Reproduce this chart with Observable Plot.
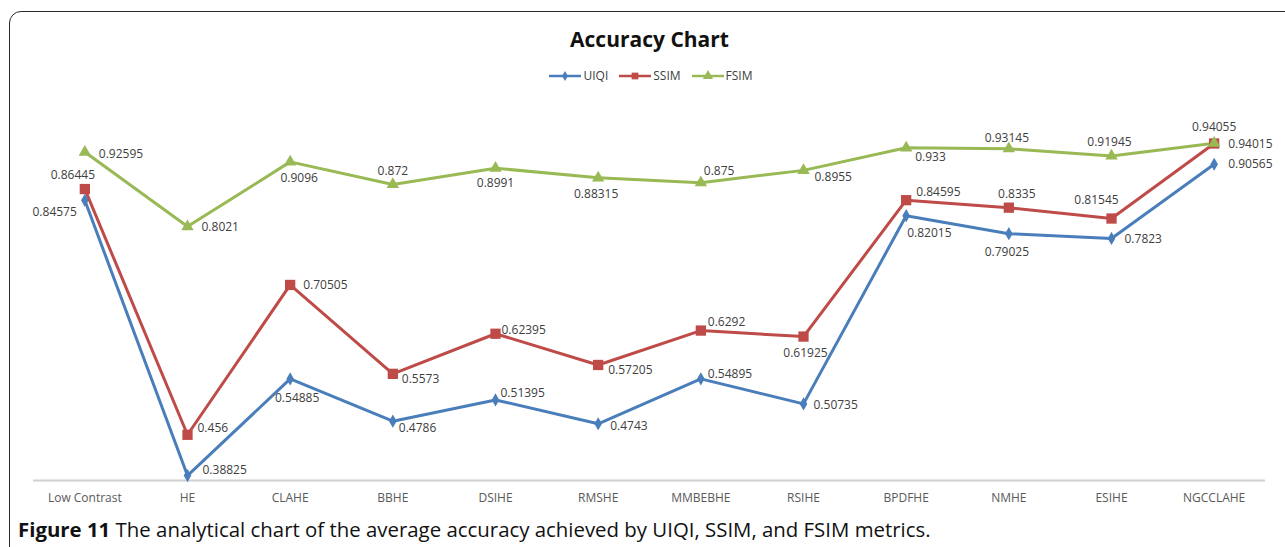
<!DOCTYPE html>
<html>
<head>
<meta charset="utf-8">
<script src="https://cdn.jsdelivr.net/npm/d3@7"></script>
<script src="https://cdn.jsdelivr.net/npm/@observablehq/plot@0.6"></script>
<style>
  html, body { margin: 0; padding: 0; background: #fff; width: 1285px; height: 547px; overflow: hidden; }
  body { position: relative; font-family: "Open Sans", "Liberation Sans", sans-serif; }
  #frame { position: absolute; left: 9px; top: 11px; width: 1300px; height: 580px; border: 1.5px solid #2a2a2a; border-radius: 12px; box-sizing: border-box; }
  #title { position: absolute; left: 0; top: 25px; width: 1299px; text-align: center; font-size: 21px; font-weight: 700; color: #111; line-height: 28px; }
  #legend { position: absolute; left: 0; top: 68px; width: 1302px; display: flex; justify-content: center; gap: 11px; font-size: 12px; color: #404040; line-height: 16px; }
  #legend .item { display: flex; align-items: center; gap: 2px; }
  #chart { position: absolute; left: 0; top: 95px; }
  #caption { position: absolute; left: 18px; top: 515px; font-size: 20.4px; color: #111; line-height: 28px; white-space: nowrap; }
</style>
</head>
<body>
<div id="frame"></div>
<div id="title">Accuracy Chart</div>
<div id="legend"></div>
<div id="chart"></div>
<div id="caption"><b>Figure 11</b> The analytical chart of the average accuracy achieved by UIQI, SSIM, and FSIM metrics.</div>
<script>
const categories = ["Low Contrast", "HE", "CLAHE", "BBHE", "DSIHE", "RMSHE", "MMBEBHE", "RSIHE", "BPDFHE", "NMHE", "ESIHE", "NGCCLAHE"];
const seriesNames = ["UIQI", "SSIM", "FSIM"];
const uiqi = [0.84575, 0.38825, 0.54885, 0.4786, 0.51395, 0.4743, 0.54895, 0.50735, 0.82015, 0.79025, 0.7823, 0.90565];
const ssim = [0.86445, 0.456, 0.70505, 0.5573, 0.62395, 0.57205, 0.6292, 0.61925, 0.84595, 0.8335, 0.81545, 0.94015];
const fsim = [0.92595, 0.8021, 0.9096, 0.872, 0.8991, 0.88315, 0.875, 0.8955, 0.933, 0.93145, 0.91945, 0.94055];

// label placements (anchor, dx, dy) — style only
const uiqiLabelPos = [["end",-8,12],["start",15,-5],["middle",7,19],["start",6,7],["start",5,-7],["start",12,2],["start",7,-5],["start",10,1],["start",1,17],["middle",-2,18],["start",13,1],["start",14,0]];
const ssimLabelPos = [["middle",-12,-14],["start",10,-7],["start",13,0],["start",9,5],["start",6,-4],["start",10,5],["start",7,-8],["middle",2,17],["start",10,-8],["middle",8,-14],["middle",-15,-18],["start",14,1]];
const fsimLabelPos = [["start",14,2],["start",14,1],["middle",9,16],["middle",0,-13],["middle",0,15],["middle",-2,16],["start",3,-12],["start",11,7],["start",9,9],["middle",-2,-11],["middle",-2,-14],["middle",0,-16]];

const colors = {UIQI: "#4a7ebb", SSIM: "#be4b48", FSIM: "#98b954"};
const symbols = {UIQI: "diamond", SSIM: "square", FSIM: "triangle"};
const radii = {UIQI: 4, SSIM: 5.8, FSIM: 4.6};
const valuesBy = {UIQI: uiqi, SSIM: ssim, FSIM: fsim};
const posBy = {UIQI: uiqiLabelPos, SSIM: ssimLabelPos, FSIM: fsimLabelPos};

const rows = seriesNames.flatMap(s => categories.map((c, i) => ({series: s, cat: c, value: valuesBy[s][i], i})));

const marks = [
  Plot.ruleY([0.38], {stroke: "#cfcfcf", strokeWidth: 2}),
  Plot.axisX({tickSize: 0, tickPadding: 13, fontSize: 12, fill: "#595959", fontFamily: "Open Sans"}),
];
for (const s of seriesNames) {
  const d = rows.filter(r => r.series === s);
  marks.push(Plot.line(d, {x: "cat", y: "value", stroke: colors[s], strokeWidth: 3}));
}
for (const s of seriesNames) {
  const d = rows.filter(r => r.series === s);
  marks.push(Plot.dot(d, {x: "cat", y: "value", symbol: () => symbols[s], r: radii[s], fill: colors[s], stroke: "none"}));
}
for (const s of seriesNames) {
  rows.filter(r => r.series === s).forEach(r => {
    const [anchor, dx, dy] = posBy[s][r.i];
    marks.push(Plot.text([r], {x: "cat", y: "value", text: d => String(d.value), textAnchor: anchor, dx, dy, fontSize: 12, fill: "#404040", fontFamily: "Open Sans"}));
  });
}

const chart = Plot.plot({
  width: 1285,
  height: 415,
  marginTop: 12,
  marginBottom: 30,
  marginLeft: 33,
  marginRight: 20,
  x: {type: "point", domain: categories, padding: 0.5, round: false, label: null, axis: null},
  y: {domain: [0.38, 1.0], axis: null},
  symbol: {type: "identity"},
  style: {background: "transparent", overflow: "visible"},
  marks
});
document.getElementById("chart").appendChild(chart);

// legend
const legend = document.getElementById("legend");
for (const s of seriesNames) {
  const item = document.createElement("div");
  item.className = "item";
  const ns = "http://www.w3.org/2000/svg";
  const svg = document.createElementNS(ns, "svg");
  svg.setAttribute("width", 32); svg.setAttribute("height", 12);
  const line = document.createElementNS(ns, "line");
  line.setAttribute("x1", 0); line.setAttribute("x2", 32); line.setAttribute("y1", 6); line.setAttribute("y2", 6);
  line.setAttribute("stroke", colors[s]); line.setAttribute("stroke-width", 2.5);
  svg.appendChild(line);
  const sym = {diamond: d3.symbolDiamond, square: d3.symbolSquare, triangle: d3.symbolTriangle}[symbols[s]];
  const p = document.createElementNS(ns, "path");
  p.setAttribute("d", d3.symbol(sym, s === "UIQI" ? 30 : 45)());
  p.setAttribute("transform", "translate(16,6)");
  p.setAttribute("fill", colors[s]);
  svg.appendChild(p);
  item.appendChild(svg);
  const t = document.createElement("span");
  t.textContent = s;
  item.appendChild(t);
  legend.appendChild(item);
}
</script>
</body>
</html>
